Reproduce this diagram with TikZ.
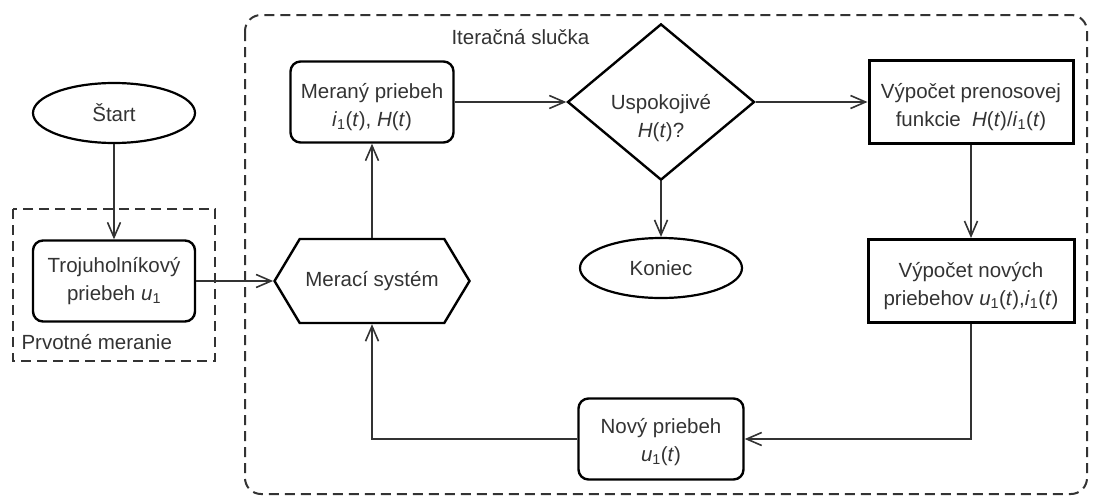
\documentclass[tikz,border=0pt]{standalone}
\usepackage{fontspec}
\setmainfont{Liberation Sans}
\usetikzlibrary{positioning,arrows.meta,shapes.geometric,shapes.symbols}

\newcommand{\ione}[1]{\textit{#1}\textsubscript{1}}
% text lowered inside its shape, shape size kept
\newcommand{\drop}[2]{\raisebox{-#1}[\height][\depth]{\begin{tabular}{@{}c@{}}#2\end{tabular}}}

\tikzset{
  term/.style={ellipse, draw, line width=2.2pt, minimum width=162pt, minimum height=60pt, inner sep=0pt},
  softbox/.style={rectangle, rounded corners=10pt, draw, line width=2.4pt, minimum width=163pt, minimum height=81pt, align=center, inner sep=0pt},
  calcbox/.style={rectangle, draw, line width=3pt, minimum width=205pt, minimum height=83pt, align=center, inner sep=0pt},
  decide/.style={diamond, draw, line width=2.4pt, minimum width=187pt, minimum height=142pt, align=center, inner sep=0pt},
  system/.style={signal, signal to=west and east, signal pointer angle=118, draw, line width=2.4pt, minimum width=195pt, minimum height=84pt, inner sep=0pt},
  frame/.style={draw=black!80, line width=2pt, dash pattern=on 10pt off 6pt},
}

\begin{document}
\begin{tikzpicture}[x=1pt, y=-1pt, node distance=2cm, auto, >={Straight Barb[length=15pt,width=13pt]},
    every node/.style={text=black!80, font=\fontsize{20.5}{28}\selectfont},
    flow/.style={->, line width=1.6pt, draw=black!80}]
  \useasboundingbox (0,0) rectangle (1094,498);
  % frames
  \draw[frame] (13,209) rectangle (215,361);
  \draw[frame, rounded corners=16pt] (245,15) rectangle (1087,494);
  \node[anchor=west] (first) at (18,342) {Prvotné meranie};
  \node[anchor=west] (loop) at (448,37) {Iteračná slučka};
  % blocks
  \node[term] (start) at (114,113) {Štart};
  \node[softbox, minimum width=162pt] (tri) [below of=start, node distance=168pt] {\drop{0pt}{Trojuholníkový\\priebeh \ione{u}}};
  \node[system] (meas) [right of=tri, node distance=258pt] {Merací systém};
  \node[softbox] (got) [above of=meas, node distance=179pt] {\drop{5pt}{Meraný priebeh\\\ione{i}(\textit{t}), \textit{H}(\textit{t})}};
  \node[decide] (ok) [right of=got, node distance=289pt] {\drop{16pt}{Uspokojivé\\\textit{H}(\textit{t})?}};
  \node[term] (stop) [below of=ok, node distance=166pt] {Koniec};
  \node[calcbox, minimum width=204pt] (tf) [right of=ok, node distance=310pt] {\drop{5pt}{Výpočet prenosovej\\funkcie \ \textit{H}(\textit{t})/\ione{i}(\textit{t})}};
  \node[calcbox, minimum width=206pt] (new) [below of=tf, node distance=179pt] {\drop{5pt}{Výpočet nových\\priebehov \ione{u}(\textit{t}),\ione{i}(\textit{t})}};
  \node[softbox, minimum width=165pt] (next) [below of=stop, node distance=171pt] {\drop{3pt}{Nový priebeh\\\ione{u}(\textit{t})}};
  % connectors
  \draw[flow] (start) to (tri);
  \draw[flow] (tri) to (meas);
  \draw[flow] (meas) to (got);
  \draw[flow] (got) to (ok);
  \draw[flow] (ok) to (stop);
  \draw[flow] (ok) to (tf);
  \draw[flow] (tf) to (new);
  \draw[flow] (new.south) |- (next.east);
  \draw[flow] (next.west) -| (meas.south);
\end{tikzpicture}
\end{document}
